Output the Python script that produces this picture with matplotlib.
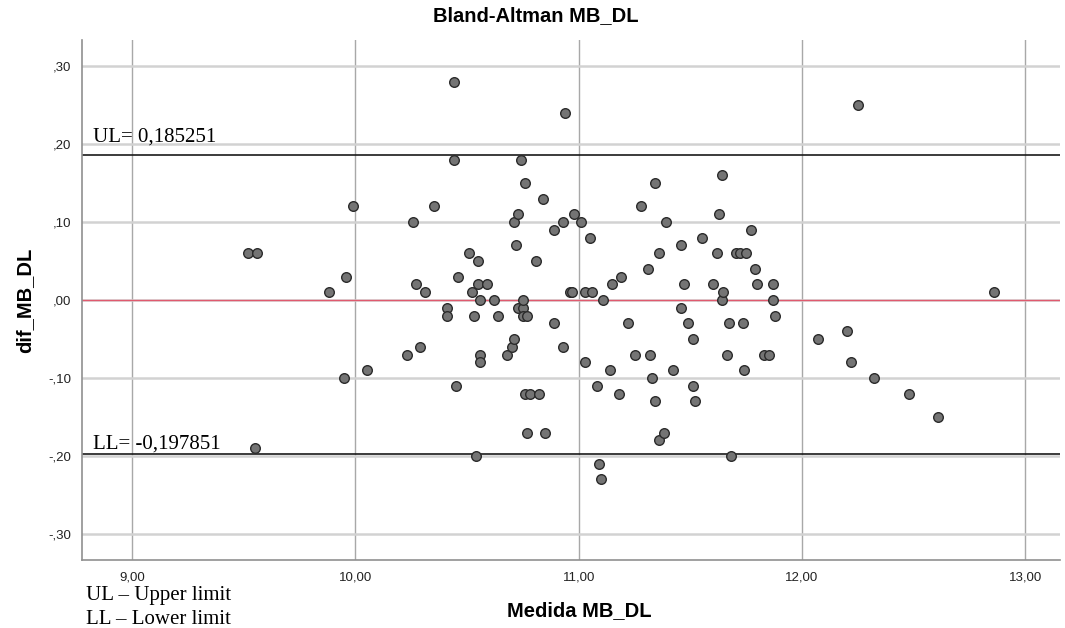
import matplotlib
matplotlib.use("Agg")
import matplotlib.pyplot as plt

media = [9.52, 9.56, 9.55, 9.88, 9.96, 9.99, 9.95, 10.05, 10.23, 10.26,
         10.27, 10.31, 10.29, 10.35, 10.41, 10.41, 10.44, 10.44, 10.46, 10.45,
         10.51, 10.52, 10.53, 10.54, 10.55, 10.55, 10.56, 10.56, 10.56, 10.59,
         10.62, 10.64, 10.68, 10.70, 10.71, 10.71, 10.72, 10.73, 10.74, 10.73,
         10.75, 10.75, 10.75, 10.77, 10.76, 10.76, 10.78, 10.77, 10.81, 10.82,
         10.84, 10.85, 10.89, 10.89, 10.93, 10.93, 10.94, 10.96, 10.97, 10.98,
         11.01, 11.03, 11.03, 11.05, 11.06, 11.08, 11.09, 11.10, 11.11, 11.14,
         11.15, 11.18, 11.19, 11.22, 11.25, 11.28, 11.31, 11.32, 11.33, 11.34,
         11.34, 11.36, 11.36, 11.38, 11.39, 11.42, 11.46, 11.46, 11.47, 11.49,
         11.51, 11.51, 11.52, 11.55, 11.60, 11.62, 11.63, 11.64, 11.64, 11.645,
         11.665, 11.675, 11.68, 11.705, 11.72, 11.735, 11.74, 11.75, 11.77, 11.79,
         11.80, 11.83, 11.85, 11.87, 11.87, 11.88, 12.07, 12.20, 12.22, 12.25,
         12.32, 12.48, 12.61, 12.86]
dif = [0.06, 0.06, -0.19, 0.01, 0.03, 0.12, -0.10, -0.09, -0.07, 0.10,
       0.02, 0.01, -0.06, 0.12, -0.01, -0.02, 0.28, 0.18, 0.03, -0.11,
       0.06, 0.01, -0.02, -0.20, 0.05, 0.02, 0.00, -0.07, -0.08, 0.02,
       0.00, -0.02, -0.07, -0.06, -0.05, 0.10, 0.07, 0.11, 0.18, -0.01,
       -0.01, 0.00, -0.02, -0.02, 0.15, -0.12, -0.12, -0.17, 0.05, -0.12,
       0.13, -0.17, 0.09, -0.03, 0.10, -0.06, 0.24, 0.01, 0.01, 0.11,
       0.10, 0.01, -0.08, 0.08, 0.01, -0.11, -0.21, -0.23, 0.00, -0.09,
       0.02, -0.12, 0.03, -0.03, -0.07, 0.12, 0.04, -0.07, -0.10, 0.15,
       -0.13, 0.06, -0.18, -0.17, 0.10, -0.09, 0.07, -0.01, 0.02, -0.03,
       -0.05, -0.11, -0.13, 0.08, 0.02, 0.06, 0.11, 0.16, 0.00, 0.01,
       -0.07, -0.03, -0.20, 0.06, 0.06, -0.03, -0.09, 0.06, 0.09, 0.04,
       0.02, -0.07, -0.07, 0.02, 0.00, -0.02, -0.05, -0.04, -0.08, 0.25,
       -0.10, -0.12, -0.15, 0.01]

upper_limit = 0.185251
lower_limit = -0.197851
mean_line = 0.0
x_ticks = [9, 10, 11, 12, 13]
x_tick_labels = ["9,00", "10,00", "11,00", "12,00", "13,00"]
y_ticks = [-0.3, -0.2, -0.1, 0.0, 0.1, 0.2, 0.3]
y_tick_labels = ["-,30", "-,20", "-,10", ",00", ",10", ",20", ",30"]

W, H = 1065, 628
fig = plt.figure(figsize=(W / 100, H / 100), dpi=100)
ax = fig.add_axes([82 / W, 1 - 560 / H, (1060 - 82) / W, (560 - 40) / H])

ax.set_xlim(8.776, 13.155)
ax.set_ylim(-0.3333, 0.3333)

for v in x_ticks:
    ax.axvline(v, color="#a8a8a8", lw=1.0, zorder=1)
for v in y_ticks:
    ax.axhline(v, color="#d2d2d2", lw=1.8, zorder=1)

ax.axhline(mean_line, color="#e05a6e", lw=1.0, zorder=2)
ax.axhline(upper_limit, color="#1a1a1a", lw=1.2, zorder=2)
ax.axhline(lower_limit, color="#1a1a1a", lw=1.2, zorder=2)

ax.scatter(media, dif, s=48, facecolor="#747474", edgecolor="#2b2b2b",
           linewidths=1.0, zorder=3)

ax.set_xticks(x_ticks)
ax.set_xticklabels(x_tick_labels)
ax.set_yticks(y_ticks)
ax.set_yticklabels(y_tick_labels)
ax.tick_params(length=0, pad=8, labelsize=9.5, colors="#222222")
for lab in ax.get_xticklabels() + ax.get_yticklabels():
    lab.set_family("Liberation Sans")

for s in ["top", "right"]:
    ax.spines[s].set_visible(False)
for s in ["left", "bottom"]:
    ax.spines[s].set_color("#909090")
    ax.spines[s].set_linewidth(1.2)

fig.text(536 / W, 1 - 16 / H, "Bland-Altman MB_DL", ha="center", va="center",
         family="Liberation Sans", fontweight="bold", fontsize=14.5)
fig.text(579 / W, 1 - 611 / H, "Medida MB_DL", ha="center", va="center",
         family="Liberation Sans", fontweight="bold", fontsize=14.5)
fig.text(25 / W, 1 - 300 / H, "dif_MB_DL", ha="center", va="center", rotation=90,
         family="Liberation Sans", fontweight="bold", fontsize=14.5)

ax.text(8.825, 0.2026, "UL= 0,185251", ha="left", va="baseline",
        family="Liberation Serif", fontsize=15, zorder=4)
ax.text(8.825, -0.19, "LL= -0,197851", ha="left", va="baseline",
        family="Liberation Serif", fontsize=15, zorder=4)

fig.text(86 / W, 1 - 600 / H, "UL \u2013 Upper limit", ha="left", va="baseline",
         family="Liberation Serif", fontsize=15)
fig.text(86 / W, 1 - 624 / H, "LL \u2013 Lower limit", ha="left", va="baseline",
         family="Liberation Serif", fontsize=15)

fig.savefig("out.png", dpi=100)
